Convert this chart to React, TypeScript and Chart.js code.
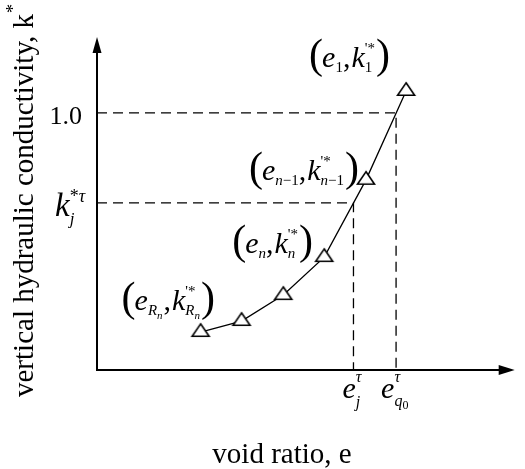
import React, { useEffect, useRef } from "react";
import { Chart, registerables } from "chart.js";

Chart.register(...registerables);

// ---- data ----
const voidRatio = [2.48, 3.46, 4.46, 5.44, 6.44, 7.4];
const conductivity = [1.14, 1.47, 2.25, 3.39, 5.71, 8.38];
const unitK = 7.72; // k* = 1.0
const unitE = 7.16; // e_q0^tau
const targetK = 5.02; // k_j^{*tau}
const targetE = 6.14; // e_j^tau
const yTickText = "1.0";
const xTitle = "void ratio, e";
const yTitle = "vertical hydraulic conductivity, k";

const SERIF = '"Liberation Serif", "Times New Roman", serif';

type Seg = {
  t: string;
  s: number;
  i?: boolean;
  dy?: number;
  dx?: number;
  st?: boolean;
  sn?: boolean;
  se?: boolean;
};

const P = 42;
const B = 30;
const S = 15;
const SS = 11;
const U = 15;

const paren = (t: string, dx = 0): Seg => ({ t, s: P, dx, dy: 1 });
const primeStar: Seg = { t: "'*", s: U, dy: -14, sn: true, se: true };

const labelE1: Seg[] = [
  paren("("),
  { t: "e", s: B, i: true, dx: -1 },
  { t: "1", s: S, dy: 5 },
  { t: ",", s: B },
  { t: "k", s: B, i: true, dx: 1 },
  { t: "1", s: S, dy: 5, st: true },
  primeStar,
  paren(")", 1),
];
const labelEn1: Seg[] = [
  paren("("),
  { t: "e", s: B, i: true, dx: -1 },
  { t: "n", s: S, i: true, dy: 5 },
  { t: "\u22121", s: S, dy: 5 },
  { t: ",", s: B },
  { t: "k", s: B, i: true, dx: 1 },
  { t: "n", s: S, i: true, dy: 5, st: true },
  { t: "\u22121", s: S, dy: 5 },
  primeStar,
  paren(")", 1),
];
const labelEn: Seg[] = [
  paren("("),
  { t: "e", s: B, i: true, dx: -1 },
  { t: "n", s: S, i: true, dy: 5 },
  { t: ",", s: B },
  { t: "k", s: B, i: true, dx: 1 },
  { t: "n", s: S, i: true, dy: 5, st: true },
  primeStar,
  paren(")", 1),
];
const labelERn: Seg[] = [
  paren("("),
  { t: "e", s: B, i: true, dx: -1 },
  { t: "R", s: S, i: true, dy: 5 },
  { t: "n", s: SS, i: true, dy: 9 },
  { t: ",", s: B, dx: 1 },
  { t: "k", s: B, i: true, dx: 1 },
  { t: "R", s: S, i: true, dy: 5, st: true },
  { t: "n", s: SS, i: true, dy: 9 },
  primeStar,
  paren(")", 1),
];
const labelKj: Seg[] = [
  { t: "k", s: 33, i: true },
  { t: "j", s: 17, i: true, dy: 8, st: true },
  { t: "*", s: 18, dy: -14, sn: true },
  { t: "\u03c4", s: 18, i: true, dy: -14, se: true },
];
const labelEj: Seg[] = [
  { t: "e", s: B, i: true },
  { t: "j", s: 16, i: true, dy: 9, st: true },
  { t: "\u03c4", s: 16, i: true, dy: -16, sn: true, se: true },
];
const labelEq0: Seg[] = [
  { t: "e", s: B, i: true },
  { t: "q", s: 16, i: true, dy: 8, st: true },
  { t: "0", s: 12, dy: 11 },
  { t: "\u03c4", s: 16, i: true, dy: -16, sn: true, se: true },
];

function font(size: number, italic?: boolean) {
  return `${italic ? "italic " : ""}${size}px ${SERIF}`;
}

function drawRich(ctx: CanvasRenderingContext2D, x: number, y: number, segs: Seg[], align = 0) {
  let cx = 0;
  let gs = 0;
  let gm = 0;
  const xs: number[] = [];
  for (const s of segs) {
    if (s.st) {
      gs = cx;
      gm = cx;
    }
    if (s.sn) {
      gm = Math.max(gm, cx);
      cx = gs;
    }
    ctx.font = font(s.s, s.i);
    xs.push(cx + (s.dx || 0));
    cx += ctx.measureText(s.t).width + (s.dx || 0);
    if (s.se) cx = Math.max(gm, cx);
  }
  const x0 = x - cx * align;
  ctx.textAlign = "left";
  ctx.textBaseline = "alphabetic";
  segs.forEach((s, k) => {
    ctx.font = font(s.s, s.i);
    ctx.fillText(s.t, x0 + xs[k], y + (s.dy || 0));
  });
}

function makeTriangle() {
  const c = document.createElement("canvas");
  c.width = 24;
  c.height = 24;
  const g = c.getContext("2d")!;
  const cx = 12;
  const cy = 12;
  g.beginPath();
  g.moveTo(cx, cy - 8.2);
  g.lineTo(cx + 8.5, cy + 4.3);
  g.lineTo(cx - 8.5, cy + 4.3);
  g.closePath();
  g.fillStyle = "#fff";
  g.fill();
  g.lineWidth = 1.6;
  g.strokeStyle = "#000";
  g.stroke();
  return c;
}

const decor = {
  id: "decor",
  afterDatasetsDraw(chart: any) {
    const ctx: CanvasRenderingContext2D = chart.ctx;
    const { left, right, top, bottom } = chart.chartArea;
    const xs = chart.scales.x;
    const ys = chart.scales.y;
    ctx.save();
    ctx.strokeStyle = "#000";
    ctx.fillStyle = "#000";
    ctx.lineWidth = 2;
    ctx.setLineDash([]);
    ctx.beginPath();
    ctx.moveTo(left, bottom + 1);
    ctx.lineTo(left, top + 10);
    ctx.moveTo(left - 1, bottom);
    ctx.lineTo(right - 10, bottom);
    ctx.stroke();
    ctx.beginPath();
    ctx.moveTo(left, top);
    ctx.lineTo(left - 4.5, top + 16);
    ctx.lineTo(left + 4.5, top + 16);
    ctx.closePath();
    ctx.fill();
    ctx.beginPath();
    ctx.moveTo(right, bottom);
    ctx.lineTo(right - 16, bottom - 5);
    ctx.lineTo(right - 16, bottom + 5);
    ctx.closePath();
    ctx.fill();

    // y tick labels
    ctx.font = font(26);
    ctx.textAlign = "right";
    ctx.textBaseline = "alphabetic";
    ctx.fillText(yTickText, left - 15, ys.getPixelForValue(unitK) + 11);
    drawRich(ctx, left - 42, ys.getPixelForValue(targetK) + 13, labelKj);

    // x tick labels
    drawRich(ctx, xs.getPixelForValue(targetE) - 11, bottom + 28, labelEj);
    drawRich(ctx, xs.getPixelForValue(unitE) - 15, bottom + 28, labelEq0);

    // point annotations
    const px = (k: number) => xs.getPixelForValue(voidRatio[k]);
    const py = (k: number) => ys.getPixelForValue(conductivity[k]);
    const n = voidRatio.length;
    drawRich(ctx, px(n - 1) - 97, py(n - 1) - 24, labelE1);
    drawRich(ctx, px(n - 2) - 117, py(n - 2) + 0, labelEn1);
    drawRich(ctx, px(n - 3) - 92, py(n - 3) - 4, labelEn);
    drawRich(ctx, px(0) - 79, py(0) - 22, labelERn);

    // axis titles
    ctx.font = font(29);
    ctx.textAlign = "center";
    ctx.fillText(xTitle, left + 185, bottom + 93);

    ctx.save();
    ctx.translate(left - 64, bottom + 27);
    ctx.rotate(-Math.PI / 2);
    ctx.textAlign = "left";
    ctx.font = font(29);
    ctx.fillText(yTitle, 0, 0);
    const w = ctx.measureText(yTitle).width;
    ctx.font = font(18);
    ctx.fillText("*", w + 1, -14);
    ctx.restore();

    ctx.restore();
  },
};

export default function App() {
  const ref = useRef<HTMLCanvasElement | null>(null);
  useEffect(() => {
    if (!ref.current) return;
    const curve = voidRatio.map((x, k) => ({ x, y: conductivity[k] }));
    const dashUnit = [
      { x: 0, y: unitK },
      { x: unitE, y: unitK },
      { x: unitE, y: 0 },
    ];
    const dashTarget = [
      { x: 0, y: targetK },
      { x: targetE, y: targetK },
      { x: targetE, y: 0 },
    ];
    const tri = makeTriangle();
    const chart = new Chart(ref.current, {
      type: "scatter",
      data: {
        datasets: [
          {
            data: curve,
            showLine: true,
            borderColor: "#000",
            borderWidth: 1.3,
            pointStyle: tri as any,
            pointRadius: 9,
            pointHoverRadius: 9,
            order: 0,
          },
          {
            data: dashUnit,
            showLine: true,
            borderColor: "#000",
            borderWidth: 1.3,
            borderDash: [10, 6],
            pointRadius: 0,
            order: 1,
          },
          {
            data: dashTarget,
            showLine: true,
            borderColor: "#000",
            borderWidth: 1.3,
            borderDash: [10, 6],
            pointRadius: 0,
            order: 2,
          },
        ],
      },
      options: {
        animation: false,
        responsive: true,
        maintainAspectRatio: false,
        events: [],
        layout: { padding: { left: 97, top: 37, right: 9, bottom: 99 } },
        scales: {
          x: { type: "linear", min: 0, max: 10, display: false },
          y: { type: "linear", min: 0, max: 10, display: false },
        },
        plugins: { legend: { display: false }, tooltip: { enabled: false } },
      },
      plugins: [decor],
    });
    return () => chart.destroy();
  }, []);
  return (
    <div style={{ position: "fixed", left: 0, top: 0, width: 525, height: 469, background: "#fff" }}>
      <canvas ref={ref} />
    </div>
  );
}
